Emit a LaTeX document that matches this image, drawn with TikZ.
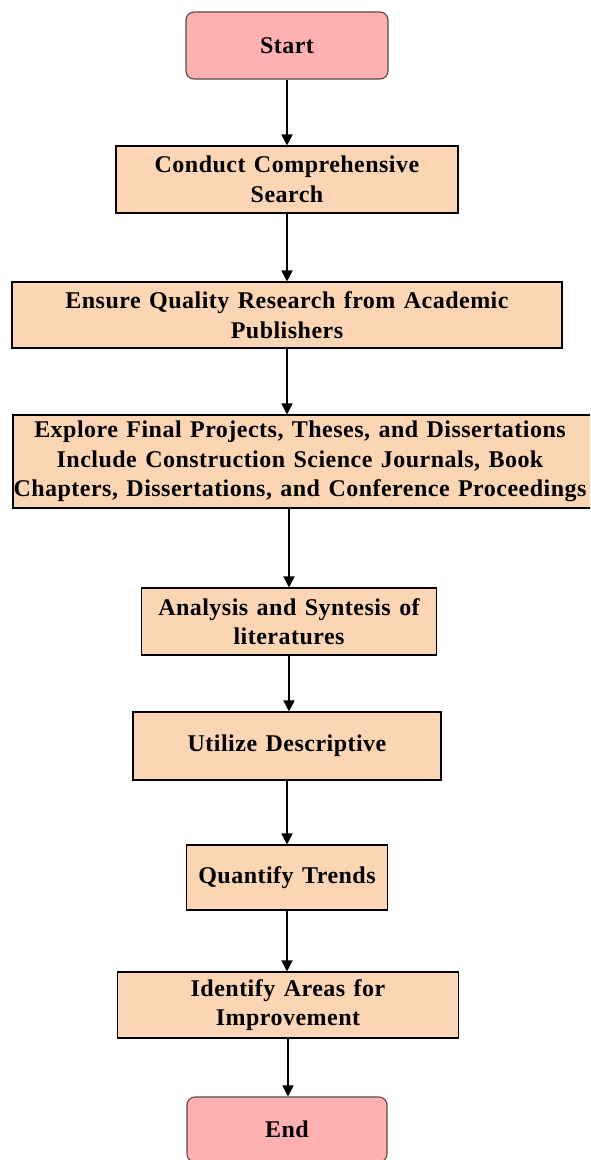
\documentclass[tikz,border=0pt]{standalone}
\usepackage{fontspec}
\setmainfont{Liberation Serif}[LetterSpace=2,WordSpace=1.3]
\usetikzlibrary{arrows.meta}
\definecolor{peach}{HTML}{FCD5B4}
\definecolor{pinkfill}{HTML}{FFB0B0}
\definecolor{pinkline}{HTML}{5A4848}
\tikzset{
  txt/.style={inner sep=0pt, align=center, font=\fontsize{24}{29.5}\selectfont\bfseries},
  box/.style={txt, draw=black, line width=1.1pt, fill=peach},
  term/.style={txt, draw=pinkline, line width=1.1pt, fill=pinkfill, rounded corners=8pt},
  arr/.style={draw=black, line width=1.6pt, -{Triangle[length=11pt,width=11pt]}}
}
\begin{document}
\begin{tikzpicture}[x=1pt,y=-1pt]
\clip (0,0) rectangle (590,1160);
\fill[white] (0,0) rectangle (590,1160);
\node[term, minimum width=202pt, minimum height=67pt] (start) at (287,45.5) {Start};
\node[box, minimum width=342pt, minimum height=67pt] (b2) at (287,179.5) {Conduct Comprehensive\\Search};
\node[box, minimum width=550pt, minimum height=66pt] (b3) at (287,315) {Ensure Quality Research from Academic\\Publishers};
\node[box, minimum width=590pt, minimum height=93pt] (b4) at (308,461.5) {};
\node[txt] (b4t) at (300,461.5) {Explore Final Projects, Theses, and Dissertations\\Include Construction Science Journals, Book\\Chapters, Dissertations, and Conference Proceedings};
\node[box, minimum width=295pt, minimum height=67pt] (b5) at (289,621.5) {Analysis and Syntesis of\\literatures};
\node[box, minimum width=308pt, minimum height=68pt] (b6) at (287,746) {Utilize Descriptive};
\node[box, minimum width=201pt, minimum height=65pt] (b7) at (287,877.5) {Quantify Trends};
\node[box, minimum width=341pt, minimum height=66pt] (b8) at (288,1005) {Identify Areas for\\Improvement};
\node[term, minimum width=200pt, minimum height=65pt] (end) at (287,1129.5) {End};
\draw[arr] (start.south) -- (b2.north);
\draw[arr] (b2.south) -- (b3.north);
\draw[arr] (b3.south) -- (b4.north -| b3.south);
\draw[arr] (b4.south -| b5.north) -- (b5.north);
\draw[arr] (b5.south) -- (b6.north -| b5.south);
\draw[arr] (b6.south) -- (b7.north -| b6.south);
\draw[arr] (b7.south) -- (b8.north -| b7.south);
\draw[arr] (b8.south) -- (end.north -| b8.south);
\end{tikzpicture}
\end{document}
